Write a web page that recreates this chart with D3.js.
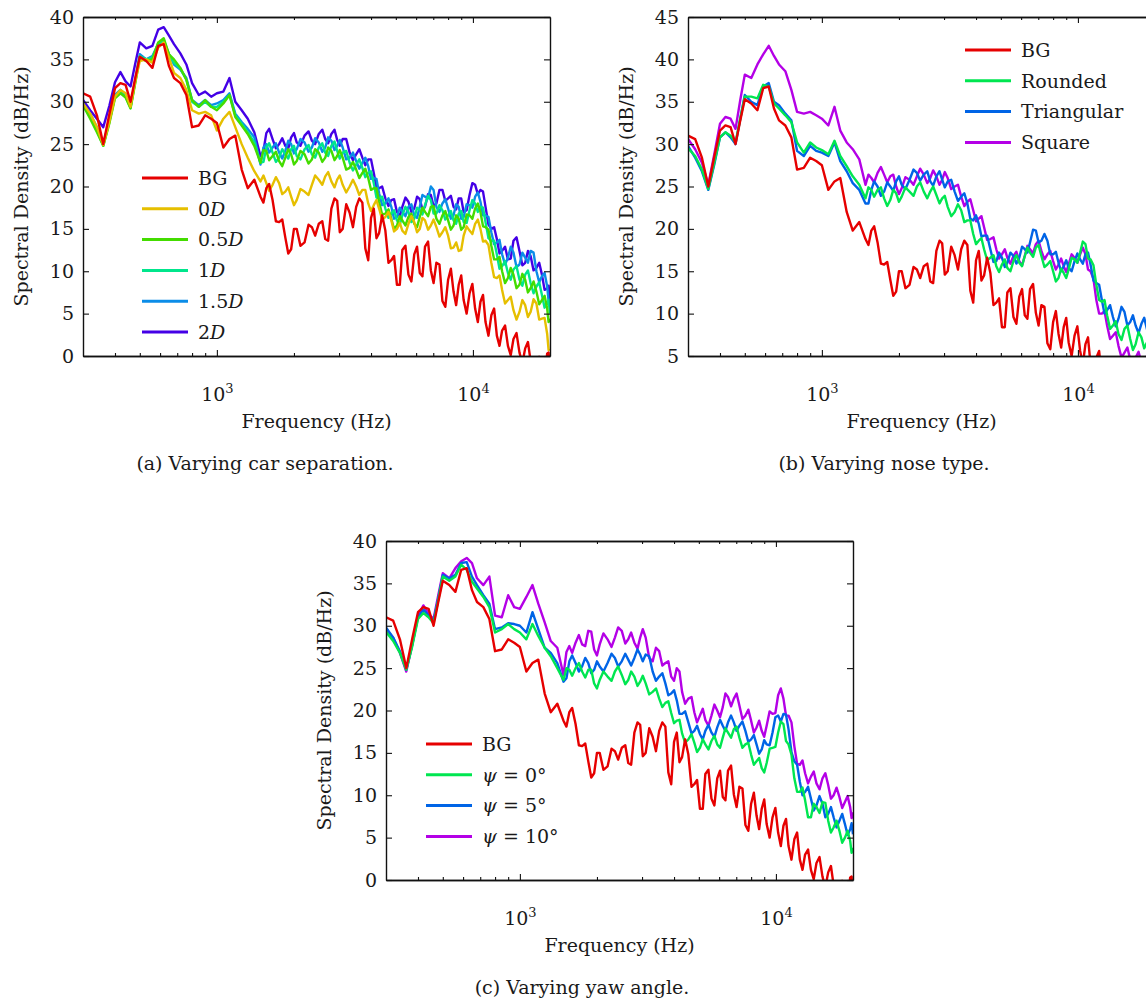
<!DOCTYPE html>
<html>
<head>
<meta charset="utf-8">
<script src="https://cdn.jsdelivr.net/npm/d3@7"></script>
<style>
  body { margin: 0; background: #fff; }
  text { font-family: "DejaVu Serif", serif; fill: #1a1a1a; }
</style>
</head>
<body>
<svg id="fig" width="1146" height="1000"></svg>
<script>
// frequency grid (Hz) shared by every spectrum
var freq = [300, 320, 340, 360, 380, 400, 420, 440, 460, 480,
  500, 530, 560, 590, 620, 650, 680, 720, 760, 800,
  850, 900, 950, 1000, 1060, 1120, 1180, 1250, 1320, 1400,
  1480, 1560, 1650, 1750, 1850, 1950, 2050, 2200, 2350, 2500,
  2650, 2800, 2950, 3100, 3300, 3500, 3700, 3900, 4100, 4300,
  4550, 4800, 5050, 5300, 5600, 5900, 6200, 6500, 6850, 7200,
  7600, 8000, 8400, 8800, 9200, 9700, 10200, 10700, 11200, 11800,
  12400, 13000, 13700, 14400, 15200, 16000, 16800, 17700, 18600, 19500,
  20000];
// extra samples in the noisy part (between freq[30] and freq[80])
var freqMid = [1520, 1600, 1700, 1800, 1900, 2000, 2120, 2280, 2420, 2580,
  2720, 2880, 3020, 3200, 3400, 3600, 3800, 4000, 4200, 4420,
  4680, 4920, 5180, 5450, 5750, 6050, 6350, 6680, 7020, 7400,
  7800, 8200, 8600, 9000, 9450, 9950, 10450, 10950, 11500, 12100,
  12700, 13350, 14050, 14800, 15600, 16400, 17250, 18150, 19050, 19750];

// background noise (same in all three panels)
var bg = [31.0, 30.6, 28.4, 25.0, 28.5, 31.6, 32.2, 32.0, 30.0, 32.8,
  35.3, 34.8, 34.0, 36.6, 36.8, 34.2, 32.8, 32.2, 30.8, 27.0,
  27.2, 28.4, 28.0, 27.5, 24.6, 25.6, 26.0, 22.0, 19.8, 20.8,
  18.8, 19.8, 18.4, 15.8, 14.0, 12.6, 15.0, 13.4, 15.2, 15.6,
  13.8, 17.4, 18.3, 15.0, 16.9, 17.6, 18.1, 11.3, 17.4, 14.5,
  14.8, 11.3, 8.4, 12.5, 9.6, 12.0, 9.8, 12.9, 10.1, 11.0,
  6.5, 9.0, 7.6, 8.4, 6.6, 7.4, 5.6, 6.4, 4.0, 4.8,
  2.4, 3.0, 1.2, 2.0, 0.4, 0.9, -0.6, -1.2, -2.0, 0.3,
  -2.5];
var bgMid = [18.1, 20.3, 15.9, 16.1, 12.1, 15.0, 13.0, 15.5, 14.2, 15.9,
  13.6, 18.6, 14.6, 17.9, 15.2, 18.6, 12.7, 16.3, 13.9, 16.6,
  11.0, 11.8, 8.4, 13.0, 8.8, 12.9, 9.4, 13.5, 8.6, 10.8,
  5.8, 10.3, 6.0, 9.5, 5.0, 8.5, 4.0, 7.2, 2.4, 5.6,
  1.2, 3.6, 0.1, 2.7, -0.85, 1.65, -2.4, -0.1, -2.35, 0.4];

// (a) car separation
var sep0 = [29.8, 28.6, 27.0, 24.9, 27.6, 30.6, 31.4, 31.0, 29.4, 32.4,
  34.8, 35.0, 34.6, 36.4, 37.0, 35.2, 33.4, 32.8, 31.4, 29.0,
  28.6, 28.8, 28.4, 26.6, 28.0, 28.8, 27.0, 25.0, 23.4, 21.8,
  20.6, 20.4, 20.2, 20.4, 19.4, 18.8, 18.4, 19.4, 20.2, 20.8,
  21.2, 20.6, 20.8, 20.2, 20.0, 20.0, 19.6, 18.0, 17.8, 17.4,
  16.4, 16.0, 15.0, 14.8, 15.6, 15.8, 15.0, 16.0, 15.4, 15.2,
  14.6, 14.2, 12.8, 12.4, 14.2, 14.8, 15.6, 15.0, 13.6, 11.0,
  9.2, 7.8, 6.6, 5.4, 5.2, 6.0, 5.2, 6.2, 4.4, 2.6,
  0.8];
var sep0Mid = [21.3, 19.5, 21.1, 19.1, 19.9, 17.8, 19.7, 19.0, 21.3, 20.2,
  21.7, 19.9, 21.3, 19.3, 20.8, 19.0, 19.6, 17.1, 18.4, 16.1,
  17.0, 14.7, 15.7, 14.4, 16.5, 14.6, 16.3, 14.9, 16.1, 14.1,
  15.2, 12.7, 13.4, 12.5, 15.3, 14.4, 16.1, 13.5, 13.1, 9.3,
  9.5, 6.2, 7.0, 4.3, 6.6, 4.6, 6.7, 4.3, 4.5, 0.7];
var sep05 = [29.6, 28.0, 26.4, 24.8, 27.4, 30.4, 31.0, 30.5, 29.2, 32.2,
  35.2, 34.8, 35.0, 37.0, 37.5, 35.6, 35.0, 34.0, 32.6, 30.2,
  29.4, 30.2, 29.4, 29.0, 29.8, 30.8, 28.2, 27.2, 26.2, 24.8,
  22.8, 24.2, 23.6, 23.0, 23.4, 23.8, 23.0, 23.8, 23.2, 24.0,
  23.4, 24.2, 23.6, 23.4, 22.2, 22.0, 21.6, 21.0, 19.8, 18.2,
  16.8, 16.2, 15.4, 16.0, 16.4, 15.6, 16.4, 17.0, 17.6, 16.2,
  16.6, 16.0, 15.4, 16.2, 15.2, 16.6, 17.4, 17.0, 15.2, 13.0,
  11.4, 10.0, 9.2, 9.6, 8.4, 9.0, 8.0, 7.6, 6.6, 5.6,
  4.4];
var sep05Mid = [24.3, 23.1, 24.1, 22.4, 24.4, 22.6, 24.2, 22.7, 24.4, 22.9,
  24.6, 23.1, 24.3, 22.0, 22.9, 21.0, 22.1, 19.6, 19.8, 16.7,
  17.3, 15.0, 16.5, 15.4, 16.8, 15.2, 17.5, 16.5, 17.7, 15.6,
  17.1, 14.9, 16.6, 14.9, 16.7, 16.2, 18.0, 15.3, 14.9, 11.4,
  11.7, 8.6, 10.4, 8.0, 9.7, 7.5, 8.8, 6.1, 7.1, 4.0];
var sep1 = [29.6, 28.2, 26.6, 24.8, 27.6, 30.6, 31.2, 30.6, 29.3, 32.4,
  35.4, 35.0, 35.2, 36.9, 37.3, 35.6, 34.6, 33.9, 32.6, 30.0,
  29.4, 30.0, 29.4, 29.4, 30.0, 30.8, 28.4, 27.4, 26.4, 25.2,
  22.8, 24.6, 24.0, 23.4, 23.8, 24.4, 23.6, 24.4, 23.8, 24.6,
  24.0, 24.8, 24.2, 24.0, 22.8, 22.6, 22.2, 21.6, 20.4, 18.6,
  17.4, 16.8, 16.0, 16.6, 17.0, 16.2, 17.2, 17.8, 18.4, 16.8,
  17.2, 16.6, 16.0, 16.8, 15.8, 17.2, 18.0, 17.6, 15.8, 13.6,
  12.0, 10.6, 9.8, 10.2, 9.0, 9.6, 8.6, 8.2, 7.2, 6.2,
  5.0];
var sep1Mid = [22.9, 25.1, 22.9, 24.4, 23.3, 24.8, 23.2, 24.9, 23.4, 25.1,
  23.6, 25.3, 23.3, 24.2, 21.9, 23.2, 21.1, 21.8, 18.7, 18.8,
  16.3, 17.2, 15.5, 17.6, 15.8, 17.5, 16.7, 18.9, 16.8, 17.8,
  16.1, 17.1, 15.6, 17.1, 15.7, 18.4, 17.0, 17.5, 13.9, 13.6,
  10.3, 11.2, 9.0, 10.6, 8.3, 10.1, 7.4, 8.7, 5.7, 6.6];
var sep15 = [29.8, 28.6, 27.0, 25.0, 27.8, 30.8, 31.4, 30.8, 29.4, 32.6,
  35.6, 35.0, 35.4, 36.8, 37.0, 35.6, 34.4, 33.8, 32.8, 30.2,
  29.6, 30.2, 29.6, 29.8, 30.2, 31.0, 28.6, 27.6, 26.8, 25.8,
  22.6, 25.0, 24.6, 24.0, 24.2, 25.0, 24.4, 25.2, 24.6, 25.2,
  24.6, 25.4, 24.8, 24.6, 23.4, 23.0, 22.8, 22.4, 21.0, 19.2,
  18.0, 17.6, 16.4, 17.0, 17.6, 16.6, 17.6, 18.8, 20.0, 17.6,
  18.0, 17.4, 16.6, 17.6, 16.4, 17.8, 18.8, 18.2, 16.6, 14.6,
  13.4, 12.0, 11.6, 12.2, 10.8, 11.6, 12.4, 10.0, 9.4, 8.2,
  6.8];
var sep15Mid = [24.6, 24.0, 25.1, 23.3, 25.4, 23.9, 25.6, 24.1, 25.7, 24.1,
  25.8, 24.3, 25.5, 23.2, 24.0, 22.1, 23.4, 20.9, 20.9, 17.8,
  18.6, 16.2, 17.5, 16.5, 17.9, 16.3, 19.0, 18.6, 19.6, 17.0,
  18.5, 16.2, 17.9, 16.2, 17.9, 17.5, 19.3, 16.6, 16.4, 13.2,
  13.7, 10.8, 12.9, 10.5, 12.2, 11.0, 12.2, 8.7, 9.8, 6.5];
var sep2 = [30.2, 29.0, 28.0, 27.0, 29.5, 32.3, 33.5, 32.4, 31.8, 34.5,
  37.0, 36.3, 36.6, 38.5, 38.8, 37.8, 36.8, 35.7, 34.4, 32.2,
  30.8, 31.2, 30.6, 31.0, 31.2, 32.8, 30.0, 29.0, 28.0, 26.4,
  23.6, 26.3, 25.6, 25.0, 24.8, 25.8, 25.2, 26.0, 25.4, 26.2,
  25.6, 26.2, 25.5, 25.6, 24.0, 23.8, 23.4, 23.2, 21.6, 19.8,
  18.6, 18.4, 17.0, 17.6, 18.2, 17.4, 18.5, 17.6, 19.0, 18.0,
  19.6, 18.6, 17.6, 18.6, 17.0, 19.0, 20.2, 19.6, 17.6, 15.0,
  13.8, 12.4, 11.4, 13.6, 12.4, 11.0, 11.8, 10.4, 9.6, 8.0,
  6.6];
var sep2Mid = [24.2, 26.8, 24.5, 25.7, 24.5, 26.3, 24.8, 26.5, 25.0, 26.7,
  25.1, 26.7, 24.8, 25.6, 23.1, 24.4, 22.5, 23.2, 19.9, 20.0,
  17.7, 18.5, 16.5, 18.7, 17.0, 18.8, 17.3, 19.1, 17.7, 19.6,
  18.3, 18.9, 17.3, 18.6, 17.2, 20.4, 19.1, 19.4, 15.5, 15.2,
  12.1, 12.9, 11.5, 14.0, 10.7, 12.4, 10.1, 11.0, 7.8, 8.3];

// (b) nose type
var noseRounded = [29.5, 28.6, 27.0, 24.7, 27.8, 30.8, 31.4, 31.0, 30.2, 33.0,
  35.6, 35.6, 35.4, 37.0, 36.8, 34.8, 34.2, 33.4, 32.6, 30.2,
  29.0, 30.2, 29.6, 29.3, 28.8, 30.4, 28.6, 27.4, 26.2, 25.2,
  23.6, 24.6, 24.6, 23.6, 23.4, 24.2, 23.8, 24.4, 25.0, 24.4,
  24.4, 24.0, 23.6, 22.6, 22.0, 22.2, 21.0, 19.4, 18.6, 17.6,
  16.6, 15.6, 15.8, 15.4, 16.2, 16.0, 16.8, 17.2, 17.8, 16.8,
  15.8, 15.0, 14.2, 14.8, 15.2, 16.4, 17.2, 18.2, 16.4, 13.4,
  11.4, 9.8, 8.6, 7.6, 8.2, 7.0, 6.4, 7.2, 6.6, 5.4,
  5.0];
var noseRoundedMid = [24.9, 23.8, 24.9, 22.7, 24.6, 23.2, 24.9, 23.9, 25.5, 23.6,
  25.0, 23.0, 23.9, 21.5, 22.9, 20.8, 21.0, 18.2, 18.9, 16.3,
  16.9, 14.9, 16.4, 15.0, 16.9, 15.6, 17.8, 16.7, 18.1, 15.5,
  16.2, 13.8, 15.3, 14.2, 16.6, 16.0, 18.5, 16.5, 15.7, 11.6,
  11.6, 8.2, 9.1, 6.9, 8.6, 5.7, 7.8, 5.9, 7.0, 4.2];
var noseTriangular = [29.8, 28.4, 26.8, 24.6, 27.6, 30.8, 31.4, 30.8, 30.0, 33.0,
  35.8, 35.0, 34.6, 36.8, 37.2, 35.0, 34.6, 33.6, 32.8, 29.2,
  28.6, 29.8, 29.2, 29.0, 28.6, 30.2, 28.0, 26.8, 25.4, 24.6,
  23.0, 24.6, 25.0, 24.4, 25.0, 25.6, 25.2, 25.8, 26.6, 26.4,
  25.6, 26.2, 25.8, 25.6, 24.4, 23.8, 23.0, 21.0, 20.6, 19.2,
  17.6, 16.2, 16.6, 16.0, 16.8, 16.6, 17.6, 18.4, 19.8, 18.6,
  18.6, 17.0, 16.0, 15.6, 15.4, 16.2, 16.4, 17.0, 15.8, 13.6,
  11.6, 10.4, 9.6, 9.4, 10.2, 9.0, 8.6, 8.8, 8.2, 7.6,
  7.0];
var noseTriangularMid = [23.0, 25.6, 23.9, 25.5, 24.5, 26.2, 24.7, 27.0, 25.7, 26.8,
  25.1, 26.8, 24.9, 25.8, 23.3, 24.2, 21.2, 21.6, 19.1, 19.2,
  16.1, 17.2, 15.5, 17.2, 15.9, 17.9, 17.2, 19.9, 18.4, 19.4,
  17.0, 17.3, 15.0, 16.3, 15.0, 17.1, 15.9, 17.2, 13.9, 13.4,
  10.0, 11.0, 8.5, 10.8, 8.6, 9.8, 7.7, 9.5, 6.9, 8.3];
var noseSquare = [30.6, 29.4, 27.8, 25.2, 28.8, 32.4, 33.2, 33.0, 31.8, 35.2,
  38.2, 37.8, 39.4, 40.6, 41.6, 40.4, 39.4, 38.6, 36.4, 33.8,
  33.6, 33.8, 33.4, 33.0, 32.2, 34.4, 31.6, 30.2, 29.4, 28.2,
  25.2, 26.0, 26.6, 26.4, 26.2, 25.0, 24.8, 25.8, 26.2, 26.4,
  26.0, 26.2, 25.8, 26.0, 25.0, 23.8, 23.2, 22.2, 21.2, 20.2,
  18.8, 17.6, 17.0, 16.6, 16.8, 16.2, 16.8, 17.6, 18.2, 17.4,
  17.0, 16.2, 15.8, 15.6, 15.8, 16.6, 17.0, 17.0, 15.0, 11.6,
  10.0, 8.6, 7.4, 6.2, 5.4, 4.6, 4.8, 4.2, 5.0, 4.4,
  4.0];
var noseSquareMid = [26.4, 25.5, 27.3, 25.5, 26.4, 24.1, 26.1, 25.2, 27.1, 25.4,
  26.9, 25.2, 26.7, 24.7, 25.2, 22.7, 23.5, 20.9, 21.5, 18.7,
  19.0, 16.5, 17.6, 15.9, 17.3, 15.7, 18.0, 17.1, 18.6, 16.4,
  17.4, 15.2, 16.5, 14.9, 17.0, 16.0, 17.8, 15.2, 14.1, 10.0,
  10.3, 7.0, 7.8, 4.8, 6.0, 3.7, 5.5, 3.6, 5.7, 3.2];

// (c) yaw angle
var yaw0 = [29.3, 28.2, 26.8, 24.8, 27.6, 30.8, 31.5, 31.0, 30.3, 33.0,
  35.8, 35.3, 35.8, 37.2, 36.6, 35.2, 34.4, 33.4, 32.2, 29.2,
  29.6, 30.2, 29.6, 29.2, 28.4, 30.2, 28.8, 27.4, 26.4, 25.0,
  23.6, 24.8, 25.0, 24.6, 24.8, 23.2, 23.6, 24.0, 24.6, 24.2,
  23.6, 24.0, 23.4, 23.2, 22.2, 21.4, 20.9, 19.7, 18.8, 17.3,
  16.6, 16.2, 15.6, 16.0, 16.4, 16.0, 16.8, 17.4, 17.8, 16.8,
  16.0, 14.8, 14.0, 13.2, 13.8, 15.6, 17.4, 18.4, 16.0, 12.0,
  10.4, 9.4, 7.4, 8.6, 9.2, 7.0, 6.2, 5.8, 5.0, 4.6,
  3.8];
var yaw0Mid = [25.0, 24.1, 25.6, 23.9, 24.8, 22.6, 24.6, 23.5, 25.2, 23.1,
  24.6, 22.9, 24.1, 21.9, 22.6, 20.4, 21.1, 18.5, 18.9, 16.2,
  17.2, 15.1, 16.6, 15.4, 17.0, 15.6, 17.9, 16.8, 18.1, 15.6,
  16.2, 13.6, 14.4, 12.7, 15.5, 15.7, 18.7, 16.4, 14.8, 10.4,
  10.9, 7.4, 9.0, 7.9, 9.1, 5.6, 7.0, 4.4, 5.8, 3.2];
var yaw5 = [29.8, 28.6, 27.0, 24.8, 27.8, 31.0, 31.9, 31.2, 30.6, 33.2,
  36.0, 35.6, 36.0, 37.4, 37.5, 35.8, 34.8, 33.6, 32.6, 29.6,
  29.8, 30.3, 30.2, 30.0, 29.2, 31.6, 29.6, 27.4, 26.8, 25.6,
  23.4, 25.8, 25.6, 25.2, 25.6, 24.8, 25.2, 25.6, 26.2, 25.8,
  26.0, 26.2, 26.6, 26.6, 24.6, 24.0, 23.2, 22.0, 21.2, 19.6,
  18.6, 17.6, 17.2, 17.6, 17.4, 18.0, 18.2, 18.6, 18.6, 18.2,
  17.6, 16.6, 16.0, 15.4, 16.0, 17.4, 19.4, 19.6, 17.8, 14.0,
  11.6, 10.4, 9.6, 8.8, 9.0, 7.8, 7.4, 7.0, 6.6, 6.0,
  5.4];
var yaw5Mid = [23.8, 26.5, 24.6, 26.2, 24.4, 25.8, 24.6, 26.7, 25.2, 26.7,
  25.3, 27.2, 25.8, 26.4, 23.5, 24.4, 21.8, 22.4, 19.6, 19.9,
  17.3, 18.2, 16.6, 18.3, 16.9, 18.9, 17.6, 19.4, 17.6, 18.7,
  16.3, 17.1, 14.9, 16.5, 15.9, 19.2, 18.7, 19.5, 15.1, 13.6,
  10.0, 11.0, 8.2, 9.9, 7.4, 8.6, 6.2, 7.8, 5.3, 6.7];
var yaw10 = [29.6, 28.6, 26.8, 24.6, 27.8, 31.2, 32.4, 31.4, 30.8, 33.6,
  36.2, 35.6, 36.8, 37.6, 38.0, 37.4, 35.6, 34.8, 35.8, 31.2,
  31.0, 33.6, 32.2, 32.0, 33.4, 34.8, 32.6, 30.4, 28.2, 27.4,
  24.2, 27.6, 28.0, 27.8, 29.4, 27.2, 27.8, 28.4, 28.6, 29.4,
  28.4, 28.0, 28.6, 28.6, 25.8, 27.0, 25.6, 24.0, 25.0, 22.2,
  21.4, 19.8, 19.4, 18.9, 19.4, 20.0, 20.4, 21.6, 21.4, 20.6,
  19.4, 18.8, 18.0, 17.6, 18.2, 19.6, 21.8, 21.4, 19.4, 15.8,
  13.6, 12.6, 12.2, 11.4, 12.0, 11.2, 10.0, 9.8, 9.2, 8.6,
  8.0];
var yaw10Mid = [26.9, 26.8, 28.9, 27.6, 29.3, 26.5, 29.1, 27.5, 29.8, 27.9,
  29.2, 27.3, 29.6, 26.2, 27.4, 25.3, 25.8, 23.5, 24.6, 20.8,
  21.6, 18.6, 20.2, 18.2, 20.7, 19.2, 22.0, 20.5, 22.0, 19.0,
  20.1, 17.4, 18.8, 16.9, 19.9, 19.7, 22.6, 19.4, 18.6, 13.7,
  14.1, 11.4, 12.8, 10.7, 12.6, 9.6, 10.9, 8.5, 9.9, 7.3];

// legend labels: [text, italic]
var sepLabels = [[['BG', 0]], [['0', 0], ['D', 1]], [['0.5', 0], ['D', 1]],
  [['1', 0], ['D', 1]], [['1.5', 0], ['D', 1]], [['2', 0], ['D', 1]]];
var noseLabels = [[['BG', 0]], [['Rounded', 0]], [['Triangular', 0]], [['Square', 0]]];
var yawLabels = [[['BG', 0]], [['\u03c8', 1], [' = 0\u00b0', 0]],
  [['\u03c8', 1], [' = 5\u00b0', 0]], [['\u03c8', 1], [' = 10\u00b0', 0]]];

var sepColors = ['#e60000', '#e6bf00', '#44dc00', '#00e68c', '#0b8de8', '#4400e6'];
var noseColors = ['#e60000', '#00e650', '#0064e6', '#b400e6'];

// join the main samples and the in-between samples into [f, dB] pairs
function spectrum(main, mid) {
  var pts = [];
  main.forEach(function(v, i) {
    pts.push([freq[i], v]);
    if (i >= 30 && i < 80) pts.push([freqMid[i - 30], mid[i - 30]]);
  });
  return pts;
}

var svg = d3.select('#fig');
var W = 467, H = 339;
var clipCount = 0;

function addParts(sel, parts) {
  parts.forEach(function(p) {
    sel.append('tspan').text(p[0]).attr('font-style', p[1] ? 'italic' : null);
  });
}

function drawPanel(p) {
  var x = d3.scaleLog().domain([300, 20000]).range([p.left, p.left + W]);
  var y = d3.scaleLinear().domain(p.yDomain).range([p.top + H, p.top]);
  var g = svg.append('g');

  var id = 'clip' + (clipCount++);
  g.append('clipPath').attr('id', id)
    .append('rect').attr('x', p.left).attr('y', p.top).attr('width', W).attr('height', H);

  var line = d3.line()
    .x(function(d) { return x(d[0]); })
    .y(function(d) { return y(d[1]); });

  // later legend entries go underneath, BG ends on top
  var lines = g.append('g').attr('clip-path', 'url(#' + id + ')');
  for (var k = p.series.length - 1; k >= 0; k--) {
    lines.append('path').datum(p.series[k])
      .attr('d', line)
      .attr('fill', 'none')
      .attr('stroke', p.colors[k])
      .attr('stroke-width', 2.4)
      .attr('stroke-linejoin', 'round');
  }

  var majors = [1000, 10000];
  var minors = x.ticks().filter(function(t) {
    return majors.indexOf(t) < 0 && t > 300 && t < 20000;
  });
  var yTicks = d3.range(p.yDomain[0], p.yDomain[1] + 1, 5);

  // y axes (ticks inward on both sides)
  var yl = g.append('g').attr('transform', 'translate(' + p.left + ',0)')
    .call(d3.axisLeft(y).tickValues(yTicks).tickSizeInner(-6).tickSizeOuter(0).tickPadding(9));
  g.append('g').attr('transform', 'translate(' + (p.left + W) + ',0)')
    .call(d3.axisRight(y).tickValues(yTicks).tickSizeInner(-6).tickSizeOuter(0).tickFormat(''));

  // x axes: majors + minors, bottom and top
  var xb = g.append('g').attr('transform', 'translate(0,' + (p.top + H) + ')')
    .call(d3.axisBottom(x).tickValues(majors).tickSizeInner(-6).tickSizeOuter(0));
  g.append('g').attr('transform', 'translate(0,' + (p.top + H) + ')')
    .call(d3.axisBottom(x).tickValues(minors).tickSizeInner(-3).tickSizeOuter(0).tickFormat(''));
  g.append('g').attr('transform', 'translate(0,' + p.top + ')')
    .call(d3.axisTop(x).tickValues(majors).tickSizeInner(-6).tickSizeOuter(0).tickFormat(''));
  g.append('g').attr('transform', 'translate(0,' + p.top + ')')
    .call(d3.axisTop(x).tickValues(minors).tickSizeInner(-3).tickSizeOuter(0).tickFormat(''));

  g.selectAll('.domain').attr('stroke', '#111').attr('stroke-width', 1.4);
  g.selectAll('.tick line').attr('stroke', '#111').attr('stroke-width', 1.1);
  yl.selectAll('text').attr('font-size', 19).attr('fill', '#1a1a1a');

  xb.selectAll('.tick text').each(function(d) {
    var t = d3.select(this).text('').attr('y', 45).attr('dy', null)
      .attr('font-size', 19).attr('fill', '#1a1a1a');
    t.append('tspan').text('10');
    t.append('tspan').text(Math.round(Math.log10(d))).attr('font-size', 13).attr('dy', -8);
  });

  // axis titles and caption
  g.append('text')
    .attr('x', p.left + W / 2).attr('y', p.top + H + 72)
    .attr('text-anchor', 'middle').attr('font-size', 19)
    .text('Frequency (Hz)');
  g.append('text')
    .attr('transform', 'translate(' + (p.left - 55) + ',' + (p.top + H / 2) + ') rotate(-90)')
    .attr('text-anchor', 'middle').attr('font-size', 19)
    .text('Spectral Density (dB/Hz)');
  g.append('text')
    .attr('x', p.captionX).attr('y', p.top + H + 114)
    .attr('text-anchor', 'middle').attr('font-size', 19)
    .text(p.caption);

  // legend
  var lg = g.append('g');
  p.labels.forEach(function(lab, i) {
    var ly = p.legend[1] + i * 30.8;
    lg.append('line')
      .attr('x1', p.legend[0]).attr('x2', p.legend[0] + 46)
      .attr('y1', ly).attr('y2', ly)
      .attr('stroke', p.colors[i]).attr('stroke-width', 3);
    var t = lg.append('text')
      .attr('x', p.legend[0] + 56).attr('y', ly).attr('dy', '0.36em')
      .attr('font-size', 19);
    addParts(t, lab);
  });
}

drawPanel({
  left: 83, top: 17, yDomain: [0, 40],
  series: [spectrum(bg, bgMid), spectrum(sep0, sep0Mid), spectrum(sep05, sep05Mid),
    spectrum(sep1, sep1Mid), spectrum(sep15, sep15Mid), spectrum(sep2, sep2Mid)],
  colors: sepColors, labels: sepLabels,
  legend: [142, 178], captionX: 265,
  caption: '(a) Varying car separation.'
});
drawPanel({
  left: 688, top: 17, yDomain: [5, 45],
  series: [spectrum(bg, bgMid), spectrum(noseRounded, noseRoundedMid),
    spectrum(noseTriangular, noseTriangularMid), spectrum(noseSquare, noseSquareMid)],
  colors: noseColors, labels: noseLabels,
  legend: [965, 50], captionX: 884,
  caption: '(b) Varying nose type.'
});
drawPanel({
  left: 386, top: 541, yDomain: [0, 40],
  series: [spectrum(bg, bgMid), spectrum(yaw0, yaw0Mid), spectrum(yaw5, yaw5Mid),
    spectrum(yaw10, yaw10Mid)],
  colors: noseColors, labels: yawLabels,
  legend: [426, 744], captionX: 582,
  caption: '(c) Varying yaw angle.'
});
</script>
</body>
</html>
